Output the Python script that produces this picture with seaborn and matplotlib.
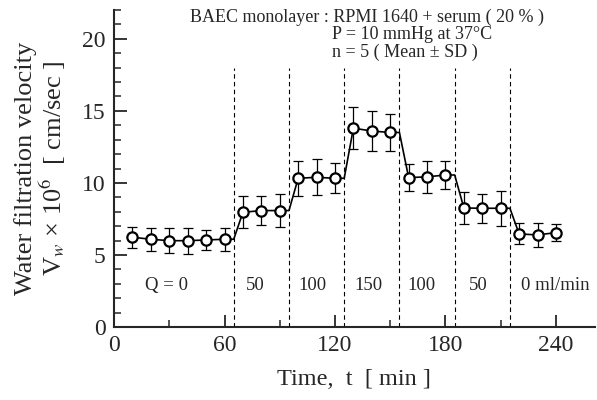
import numpy as np
import pandas as pd
import matplotlib
matplotlib.use("Agg")
import matplotlib.pyplot as plt
import seaborn as sns

# ---- data ----
time_min = [10, 20, 30, 40, 50, 60, 70, 80, 90, 100, 110, 120,
            130, 140, 150, 160, 170, 180, 190, 200, 210, 220, 230, 240]
vw_mean = [6.23, 6.09, 5.99, 5.99, 6.04, 6.09, 7.96, 8.08, 8.08, 10.32, 10.39, 10.32,
           13.8, 13.6, 13.5, 10.37, 10.42, 10.55, 8.26, 8.24, 8.24, 6.46, 6.39, 6.55]
vw_sd = [0.72, 0.8, 0.85, 0.89, 0.72, 0.8, 1.1, 1.0, 1.13, 1.23, 1.24, 1.04,
         1.48, 1.41, 1.27, 0.95, 1.09, 0.97, 1.12, 1.02, 1.2, 0.73, 0.81, 0.61]
switch_times = [65, 95, 125, 155, 185, 215]
flow_labels = ["Q = 0", "50", "100", "150", "100", "50", "0 ml/min"]
flow_label_x = [28.6, 76.8, 107.6, 138, 167, 198, 239.7]
xticks = [0, 60, 120, 180, 240]
yticks = [0, 5, 10, 15, 20]

sns.set_style("ticks")
plt.rcParams["font.family"] = ["Liberation Serif", "DejaVu Serif"]
plt.rcParams["mathtext.fontset"] = "stix"

fig = plt.figure(figsize=(5.97, 4.0), dpi=100)
ax = fig.add_axes([0.191, 0.1825, 0.805, 0.7925])

# step-like connecting path: value held until the switch time
path_t, path_v = [], []
for i, (t, v) in enumerate(zip(time_min, vw_mean)):
    path_t.append(t)
    path_v.append(v)
    if i + 1 < len(time_min):
        for s in switch_times:
            if t < s < time_min[i + 1]:
                path_t.append(s)
                path_v.append(v)
path_df = pd.DataFrame({"t": path_t, "v": path_v})
sns.lineplot(data=path_df, x="t", y="v", sort=False, estimator=None,
             color="black", linewidth=1.2, ax=ax)

for s in switch_times:
    ax.plot([s, s], [0, 18], color="black", linewidth=0.8,
            linestyle=(0, (4, 3)))

ax.errorbar(time_min, vw_mean, yerr=vw_sd, fmt="none", ecolor="black",
            elinewidth=0.9, capsize=3.5, capthick=0.9, zorder=3)
df = pd.DataFrame({"t": time_min, "v": vw_mean})
sns.scatterplot(data=df, x="t", y="v", marker="o", s=55, facecolor="white",
                edgecolor="black", linewidth=1.6, zorder=4, ax=ax)

for lab, x in zip(flow_labels, flow_label_x):
    ax.text(x, 2.85, lab, ha="center", va="center", fontsize=13.5)

ax.text(41, 21.5, "BAEC monolayer : RPMI 1640 + serum ( 20 % )",
        ha="left", va="center", fontsize=13)
ax.text(118.4, 20.3, "P = 10 mmHg at 37°C", ha="left", va="center", fontsize=13)
ax.text(118.4, 19.05, "n = 5 ( Mean ± SD )", ha="left", va="center", fontsize=13)

ax.set_xlim(0, 261)
ax.set_ylim(0, 22)
ax.set_xticks(xticks)
ax.set_xticklabels([str(x) for x in xticks])
ax.set_yticks(yticks)
ax.set_yticklabels([str(y) for y in yticks])
ax.set_xticks(np.arange(30, 261, 60), minor=True)
ax.set_yticks(np.arange(0, 23, 1), minor=True)
ax.tick_params(axis="both", which="major", direction="in", length=9,
               width=1.3, labelsize=17, pad=6)
ax.tick_params(axis="both", which="minor", direction="in", length=5, width=1.1)

for side in ["top", "right"]:
    ax.spines[side].set_visible(False)
for side in ["left", "bottom"]:
    ax.spines[side].set_linewidth(1.5)

ax.set_xlabel("Time,  t  [ min ]", fontsize=17.5, labelpad=9)
ax.set_ylabel("Water filtration velocity\n" + r"V$_{w}$ × 10$^{6}$  [ cm/sec ]",
              fontsize=19, labelpad=10, linespacing=1.05)

fig.savefig("out.png", dpi=100)
